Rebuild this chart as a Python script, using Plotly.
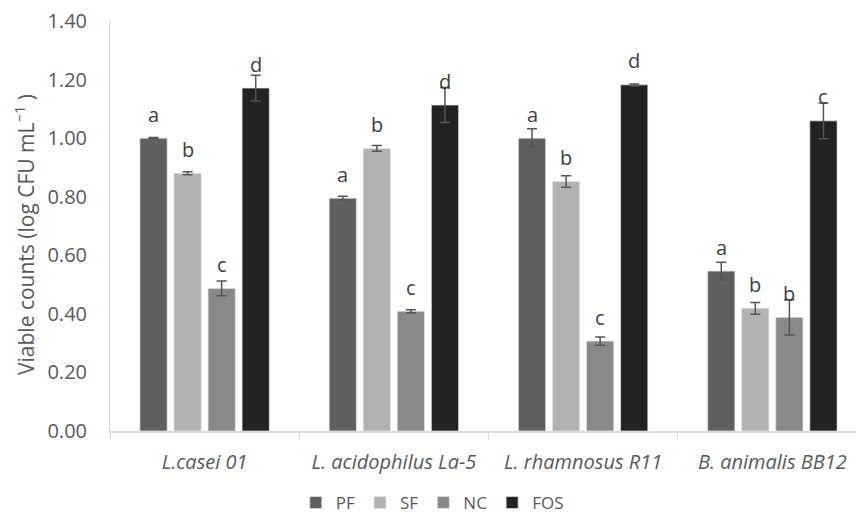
import plotly.graph_objects as go

categories = ["L.casei 01", "L. acidophilus La-5", "L. rhamnosus R11", "B. animalis BB12"]
series_names = ["PF", "SF", "NC", "FOS"]
values = {
    "PF":  [1.00, 0.795, 1.00, 0.546],
    "SF":  [0.880, 0.965, 0.852, 0.419],
    "NC":  [0.487, 0.409, 0.307, 0.388],
    "FOS": [1.171, 1.113, 1.182, 1.059],
}
errors = {
    "PF":  [0.002, 0.007, 0.032, 0.030],
    "SF":  [0.005, 0.010, 0.020, 0.020],
    "NC":  [0.025, 0.005, 0.014, 0.060],
    "FOS": [0.044, 0.060, 0.003, 0.061],
}
letters = {
    "PF":  ["a", "a", "a", "a"],
    "SF":  ["b", "b", "b", "b"],
    "NC":  ["c", "c", "c", "b"],
    "FOS": ["d", "d", "d", "c"],
}
y_title = "Viable counts (log CFU mL<sup>−1</sup> )"
colors = {"PF": "#5f5f5f", "SF": "#b2b2b2", "NC": "#898989", "FOS": "#222222"}

FONT = "Open Sans"
fig = go.Figure()
for s in series_names:
    fig.add_trace(go.Bar(
        name=s, x=categories, y=values[s],
        marker=dict(color=colors[s], line=dict(color="rgba(230,230,230,0.7)", width=1)),
        error_y=dict(type="data", array=errors[s], visible=True,
                     color="#555555", thickness=1.5, width=5),
    ))

# letter annotations above each bar
slot_px = 34
for j, s in enumerate(series_names):
    for i, c in enumerate(categories):
        fig.add_annotation(
            x=c, y=values[s][i], text=letters[s][i], showarrow=False,
            xshift=(j - 1.5) * slot_px, yshift=24,
            font=dict(family=FONT, size=20, color="#404040"),
            yanchor="middle",
        )

# y-axis title as rotated annotation (positioned in paper coords)
fig.add_annotation(
    text=y_title, textangle=-90, showarrow=False,
    xref="paper", yref="paper", x=(24 - 110) / 746, y=(431 - 235) / 410,
    xanchor="center", yanchor="middle",
    font=dict(family=FONT, size=21, color="#595959"),
)

fig.update_layout(
    width=856, height=521,
    margin=dict(l=110, r=0, t=21, b=90, autoexpand=False),
    paper_bgcolor="white", plot_bgcolor="white",
    barmode="group", bargap=0.28, bargroupgap=0.2,
    font=dict(family=FONT, color="#595959", size=16),
    showlegend=True,
    legend=dict(orientation="h", xref="container", yref="container",
                x=0.505, xanchor="center", y=-0.014, yanchor="bottom",
                font=dict(family=FONT, size=17, color="#595959"),
                itemwidth=30, traceorder="normal"),
    xaxis=dict(
        range=[-0.5, 3.442], showline=True, linecolor="#d9d9d9", linewidth=1.5,
        ticks="outside", tickson="boundaries", ticklen=7, tickcolor="#d9d9d9",
        tickfont=dict(family=FONT, size=20, color="#595959", style="italic"),
        ticklabelstandoff=12, showgrid=False, zeroline=False, automargin=False,
    ),
    yaxis=dict(
        range=[0, 1.4], dtick=0.2, tickformat=".2f",
        showline=True, linecolor="#d9d9d9", linewidth=1,
        showgrid=False, zeroline=False, ticks="", automargin=False,
        ticklabelstandoff=18,
        tickfont=dict(family=FONT, size=20, color="#595959"),
    ),
)

fig.write_html("out.html", config={"displayModeBar": False},
               post_script="document.body.style.margin='0';")
